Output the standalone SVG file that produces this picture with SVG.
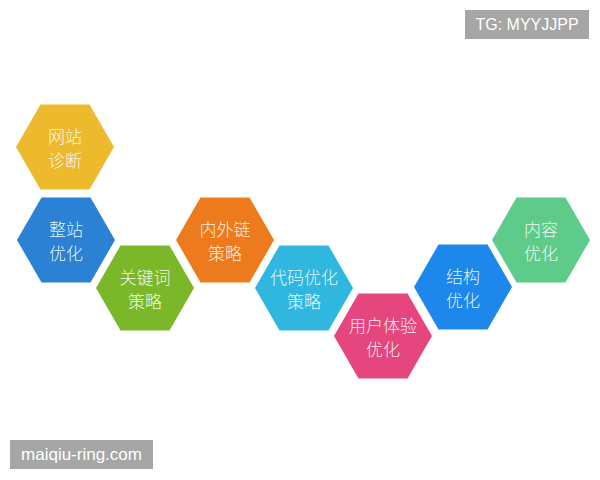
<svg xmlns="http://www.w3.org/2000/svg" width="600" height="480" viewBox="0 0 600 480">
<style>
.hex{stroke:none}
.t{font-family:"Noto Sans CJK SC","Noto Sans",sans-serif;font-size:17px;font-weight:300;fill:#ffffff;fill-opacity:0.9;text-anchor:middle}
.wm{font-family:"Liberation Sans",Arial,sans-serif;fill:#ffffff;text-anchor:middle}
</style>
<defs>
<polygon id="hx" points="-49,0 -24.5,-42.5 24.5,-42.5 49,0 24.5,42.5 -24.5,42.5"/>
</defs>
<rect width="600" height="480" fill="#ffffff"/>
<g id="connectors"></g>
<g id="n1" transform="translate(65,147)"><use href="#hx" fill="#EDB92D"/><text class="t" y="-4">网站</text><text class="t" y="20">诊断</text></g>
<g id="n2" transform="translate(66,240)"><use href="#hx" fill="#2B82D4"/><text class="t" y="-4">整站</text><text class="t" y="20">优化</text></g>
<g id="n3" transform="translate(145,288)"><use href="#hx" fill="#7AB829"/><text class="t" y="-4">关键词</text><text class="t" y="20">策略</text></g>
<g id="n4" transform="translate(225,240)"><use href="#hx" fill="#EE7A1E"/><text class="t" y="-4">内外链</text><text class="t" y="20">策略</text></g>
<g id="n5" transform="translate(304,288)"><use href="#hx" fill="#2FB7E0"/><text class="t" y="-4">代码优化</text><text class="t" y="20">策略</text></g>
<g id="n6" transform="translate(383,336)"><use href="#hx" fill="#E4467D"/><text class="t" y="-4">用户体验</text><text class="t" y="20">优化</text></g>
<g id="n7" transform="translate(463,287)"><use href="#hx" fill="#1E87EB"/><text class="t" y="-4">结构</text><text class="t" y="20">优化</text></g>
<g id="n8" transform="translate(541,240)"><use href="#hx" fill="#5ECB8B"/><text class="t" y="-4">内容</text><text class="t" y="20">优化</text></g>
<g id="wm1"><rect x="465" y="10" width="124" height="29" fill="#A6A6A6"/><text class="wm" x="527" y="30" font-size="16">TG: MYYJJPP</text></g>
<g id="wm2"><rect x="10" y="440" width="143" height="29" fill="#A6A6A6"/><text class="wm" x="81.5" y="460" font-size="17">maiqiu-ring.com</text></g>
</svg>
